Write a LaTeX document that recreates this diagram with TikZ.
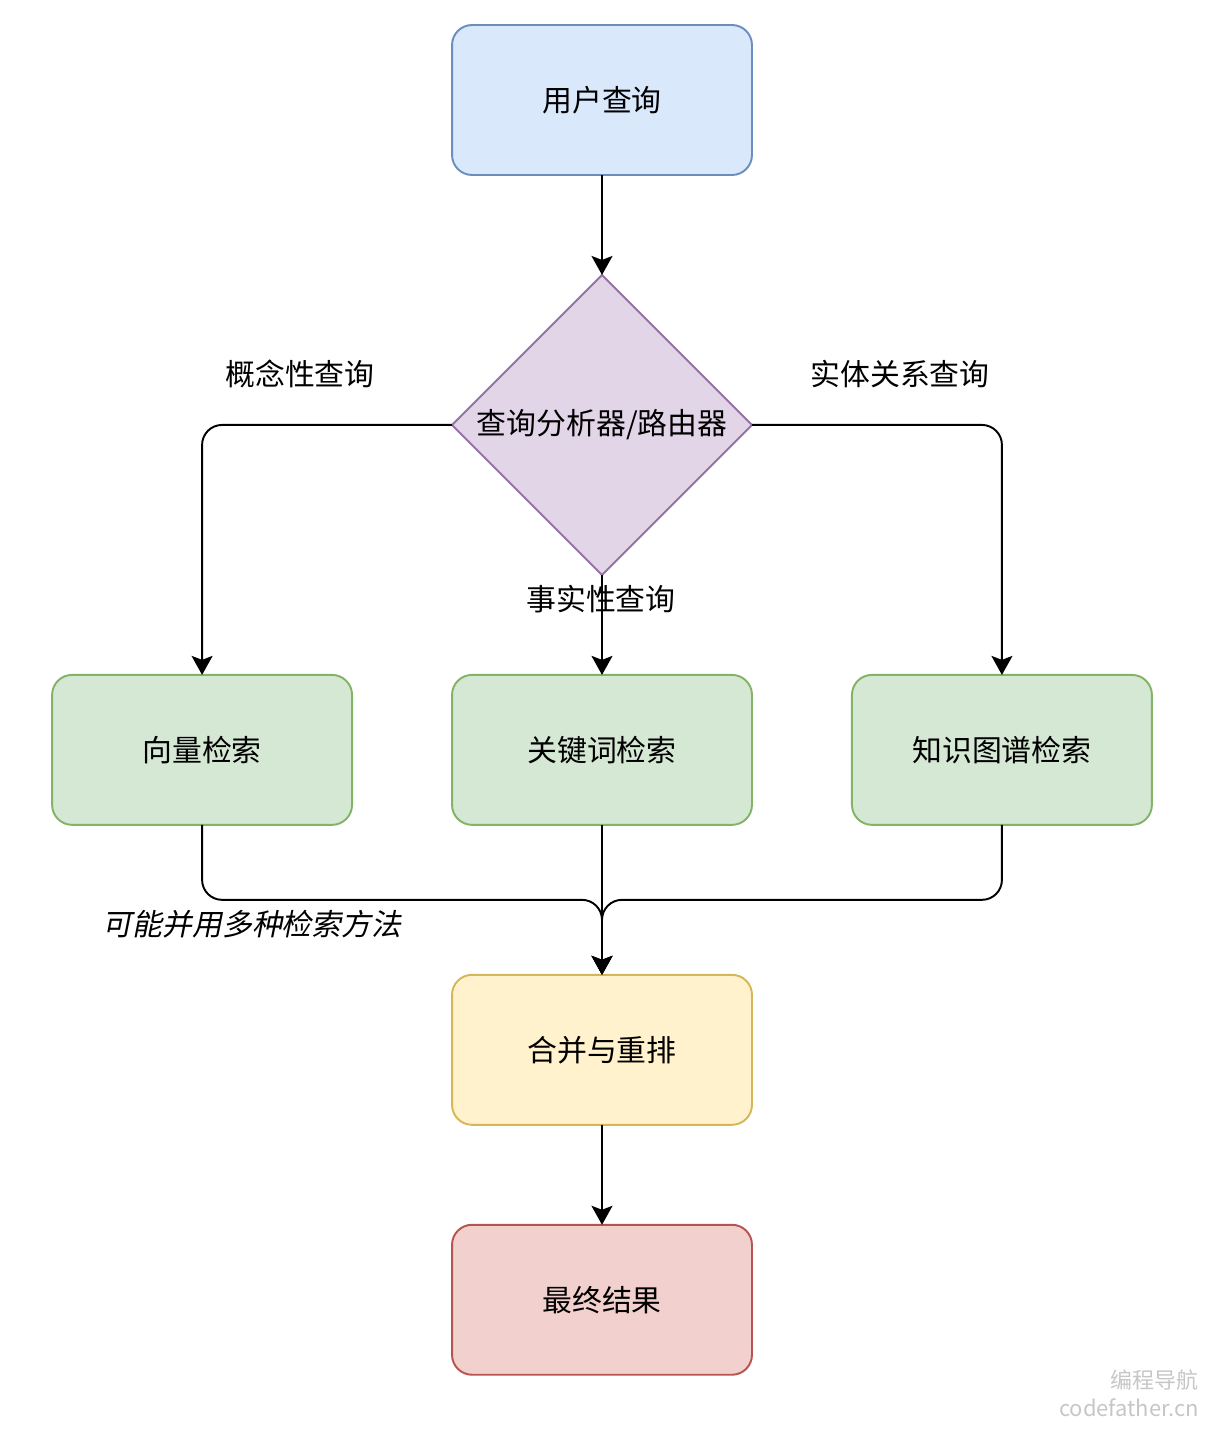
\documentclass[tikz,border=0pt]{standalone}
\usepackage{fontspec}
\setmainfont{Noto Sans CJK SC}
\newfontfamily\cjkslant[FakeSlant=0.2]{Noto Sans CJK SC}
\usetikzlibrary{positioning, shapes.geometric, arrows.meta, calc}

\definecolor{qfill}{HTML}{DAE8FC}
\definecolor{qline}{HTML}{6C8EBF}
\definecolor{rfill}{HTML}{E1D5E7}
\definecolor{rline}{HTML}{9673A6}
\definecolor{sfill}{HTML}{D5E8D4}
\definecolor{sline}{HTML}{82B366}
\definecolor{mfill}{HTML}{FFF2CC}
\definecolor{mline}{HTML}{D6B656}
\definecolor{efill}{HTML}{F2D0CE}
\definecolor{eline}{HTML}{B85450}

\tikzset{
  box/.style={draw, rounded corners=0.4cm, minimum width=6cm, minimum height=3cm,
    outer sep=0pt, line width=1.1pt, font=\fontsize{17}{20}\selectfont},
  link/.style={line width=1.1pt, rounded corners=0.4cm,
    -{Stealth[length=0.38cm, width=0.42cm, inset=0.08cm]}},
  lbl/.style={font=\fontsize{17}{20}\selectfont},
}

\begin{document}
\begin{tikzpicture}[x=0.02cm, y=-0.02cm]
            \useasboundingbox (0,0) rectangle (1210,1432);
            % nodes
            \node[box, fill=qfill, draw=qline] (Q) at (602,100) {用户查询};
            \node[diamond, draw=rline, fill=rfill, line width=1.1pt, minimum width=6cm, minimum height=6cm,
                  inner sep=0pt, outer sep=0pt, lbl, below=2cm of Q] (R) {查询分析器/路由器};
            \node[box, fill=sfill, draw=sline, below=2cm of R] (K) {关键词检索};
            \node[box, fill=sfill, draw=sline, left=2cm of K] (V) {向量检索};
            \node[box, fill=sfill, draw=sline, right=2cm of K] (G) {知识图谱检索};
            \node[box, fill=mfill, draw=mline, below=3cm of K] (M) {合并与重排};
            \node[box, fill=efill, draw=eline, below=2cm of M] (E) {最终结果};
            \coordinate (J) at ($(K.south)!0.5!(M.north)$);
            % links
            \draw[link] (Q) -- (R);
            \draw[link] (R.west) -| (V.north);
            \draw[link] (R.east) -| (G.north);
            \draw[link] (R.south) -- (K.north);
            \draw[link] (V.south) |- (J) -- (M.north);
            \draw[link] (G.south) |- (J) -- (M.north);
            \draw[link] (K.south) -- (M.north);
            \draw[link] (M) -- (E);
            % labels
            \node[lbl] (c1) at (300,374) {概念性查询};
            \node[lbl] (c2) at (900,374) {实体关系查询};
            \node[lbl] (c3) at (601,599) {事实性查询};
            \node[lbl, font=\fontsize{17}{20}\cjkslant] (c4) at (252,924) {可能并用多种检索方法};
            \node[anchor=east, gray!45, font=\fontsize{12.5}{14}\selectfont] (w1) at (1205,1380) {编程导航};
            \node[anchor=east, gray!45, font=\fontsize{12.5}{14}\selectfont] (w2) at (1205,1408) {codefather.cn};
        \end{tikzpicture}
\end{document}
